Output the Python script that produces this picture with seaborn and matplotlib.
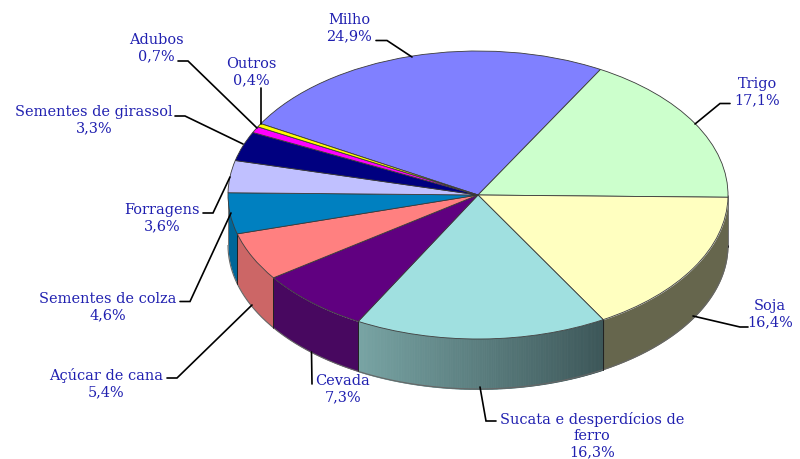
import numpy as np
import matplotlib
matplotlib.use("Agg")
import matplotlib.pyplot as plt
import seaborn as sns

categories = ["Milho", "Trigo", "Soja", "Sucata e desperdícios de\nferro", "Cevada",
              "Açúcar de cana", "Sementes de colza", "Forragens",
              "Sementes de girassol", "Adubos", "Outros"]
values = [24.9, 17.1, 16.4, 16.3, 7.3, 5.4, 4.6, 3.6, 3.3, 0.7, 0.4]
value_labels = ["24,9%", "17,1%", "16,4%", "16,3%", "7,3%", "5,4%", "4,6%", "3,6%", "3,3%", "0,7%", "0,4%"]

top_colors = ["#8080ff", "#ccffcc", "#ffffc0", "#a0e0e0", "#600080", "#ff8080",
              "#0080c0", "#c0c0ff", "#000080", "#ff00ff", "#ffff00"]
wall_colors = ["#4d4d99", "#7a997a", "#66664d", "#66666d", "#480860", "#cc6666",
               "#006699", "#9090c0", "#000060", "#c000c0", "#c0c000"]

# label layout in pixels: text centre, then leader polyline
label_pos = [(349, 28), (757, 92), (770, 314.5), (592, 435.5), (343, 389.5), (106, 383.5),
             (108, 307.5), (162, 218.5), (94, 120.5), (156, 48.5), (251, 72.5)]
leaders = [[(376, 41.5), (387, 41.5), (412, 58)],
           [(730, 104.5), (720, 104.5), (695, 125)],
           [(693, 317), (740, 328), (748, 328)],
           [(480, 388), (486, 422), (496, 422)],
           [(311.5, 353), (312, 385)],
           [(252, 306), (177, 379), (167, 379)],
           [(231, 214), (190, 302.5), (180, 302.5)],
           [(230, 178), (213, 214), (203, 214)],
           [(243, 145), (185, 117), (175, 117)],
           [(257, 129), (188, 62), (178, 62)],
           [(261, 125), (261, 89)]]

sns.set_theme(style="white")
plt.rcParams["font.family"] = ["DejaVu Serif"]
TEXT = "#2020b0"

CX, CY, RX, RY, DEPTH = 478, 196, 250, 144, 50
START = 150.3

fig = plt.figure(figsize=(8, 4.6), dpi=100, facecolor="white")
ax = fig.add_axes([0, 0, 1, 1])
ax.set_axis_off()

# side wall, from the same values
edges = START - np.concatenate([[0], np.cumsum(values)]) / np.sum(values) * 360
d = DEPTH / RY
grad_left, grad_right = np.array([0x78, 0xa4, 0xa4]) / 255, np.array([0x3c, 0x56, 0x58]) / 255
for i, col in enumerate(wall_colors):
    a0, a1 = edges[i + 1], edges[i]
    lo = max(a0, -180)
    hi = min(a1, 0)
    if lo >= hi:
        continue
    th = np.radians(np.linspace(lo, hi, 200))
    if i == 3:
        for k in range(len(th) - 1):
            t = k / (len(th) - 2)
            c = grad_left * (1 - t) + grad_right * t
            seg = th[k:k + 2]
            ax.fill_between(np.cos(seg), np.sin(seg) - d, np.sin(seg), color=c, lw=0.6, zorder=1)
    else:
        ax.fill_between(np.cos(th), np.sin(th) - d, np.sin(th), color=col, lw=0, zorder=1)
    ax.plot(np.cos(th), np.sin(th) - d, color="#666666", lw=0.8, zorder=2, solid_capstyle="butt")
    for a in (lo, hi):
        if a > -180 and a < 0:
            ax.plot([np.cos(np.radians(a))] * 2,
                    [np.sin(np.radians(a)), np.sin(np.radians(a)) - d],
                    color="#222222", lw=0.7, zorder=2, solid_capstyle="butt")
for a in (-180, 0):
    ax.plot([np.cos(np.radians(a))] * 2, [0, -d], color="#777777", lw=0.7, zorder=2,
            solid_capstyle="butt")

wedges, _ = ax.pie(values, colors=sns.color_palette(top_colors), startangle=START, counterclock=False,
                   wedgeprops=dict(edgecolor="#3a3a3a", linewidth=0.6, zorder=3), normalize=True)
ax.set_aspect("auto")
ax.set_xlim(-CX / RX, (800 - CX) / RX)
ax.set_ylim((CY - 460) / RY, CY / RY)

# overlay in pixel coordinates for labels and leaders
ov = fig.add_axes([0, 0, 1, 1], frameon=False)
ov.set_xlim(0, 800)
ov.set_ylim(460, 0)
ov.set_axis_off()
for name, pct, (x, y), line in zip(categories, value_labels, label_pos, leaders):
    ov.text(x, y, f"{name}\n{pct}", ha="center", va="center", color=TEXT, fontsize=10.45,
            linespacing=1.22)
    xs, ys = zip(*line)
    ov.plot(xs, ys, color="black", lw=1.2, solid_joinstyle="miter")

fig.savefig("out.png", dpi=100, facecolor="white")
